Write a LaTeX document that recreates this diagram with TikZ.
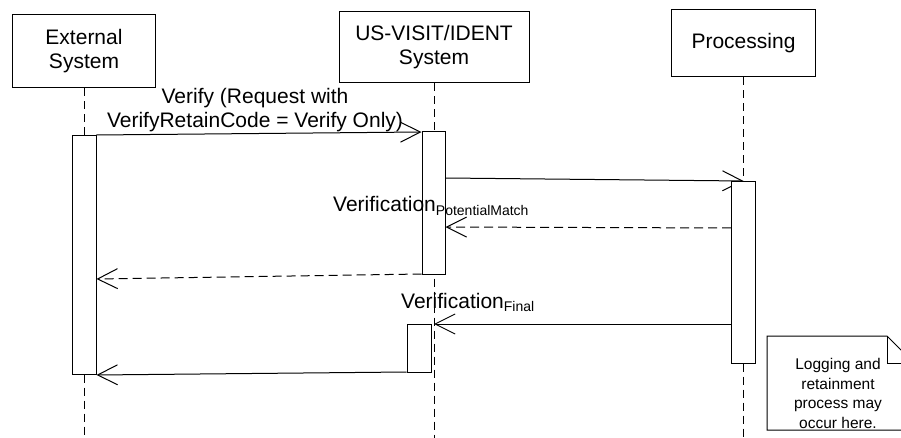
\documentclass[tikz,border=0pt]{standalone}
\usepackage{fontspec}
\setmainfont{Liberation Sans}
\usetikzlibrary{arrows.meta,backgrounds}
\tikzstyle{actor} = [rectangle, draw=black, line width=1pt, fill=white, align=center,
font=\fontsize{21}{24}\selectfont]
\tikzstyle{bar} = [rectangle, draw=black, line width=1pt, fill=white, minimum width=24pt,
inner sep=0pt, anchor=north]
\tikzstyle{life} = [line width=1pt, dash pattern=on 8pt off 5pt]
\tikzstyle{msg} = [line width=1pt, -{Straight Barb[length=20pt,width=20pt]}]
\tikzstyle{reply} = [msg, dash pattern=on 9pt off 5pt]
\tikzstyle{lbl} = [font=\fontsize{21}{24}\selectfont, inner sep=0pt]

\begin{document}
\begin{tikzpicture}[x=1pt, y=-1pt]
\useasboundingbox (0,0) rectangle (901,438);
\clip (0,0) rectangle (901,438);

\node (1)[actor, minimum width=143pt, minimum height=73pt] at (84,51.5) {External\\System};
\node (2)[actor, minimum width=190pt, minimum height=71pt] at (434,47.5) {US-VISIT/IDENT\\System};
\node (3)[actor, minimum width=144pt, minimum height=67pt] at (743.5,43.5) {Processing};

% activation bars
\node (1a)[bar, minimum height=239pt] at (84,135) {};
\node (2a)[bar, minimum width=23pt, minimum height=143pt] at (433.5,131) {};
\node (2b)[bar, minimum height=48pt] at (419,324) {};
\node (3a)[bar, minimum height=182pt] at (743.5,181) {};

\coordinate (1e) at (84,438);
\coordinate (2e) at (434,438);
\coordinate (3e) at (743.5,438);

\begin{pgfonlayer}{background}
\draw [life](1.south) -- (1e);
\draw [life](2.south) -- (2e);
\draw [life](3.south) -- (3e);
\draw [msg]([yshift=-47pt]2a.north east) -- (3a.north);
\end{pgfonlayer}

\draw [msg](1a.north east) -- ([yshift=-1pt]2a.north west);
\draw [reply]([yshift=-47pt]3a.north west) -- ([yshift=-96pt]2a.north east);
\draw [reply]([yshift=1pt]2a.south west) -- ([yshift=-144pt]1a.north east);
\draw [msg]([yshift=-143pt]3a.north west) -- (2b.north -| 2.south);
\draw [msg]([yshift=1pt]2b.south west) -- (1a.south east);

\node (m1)[lbl, align=center] at (255,110) {Verify (Request with\\VerifyRetainCode = Verify Only)};
\node (m3)[lbl, anchor=base west] at (333,212) {Verification\raisebox{-3pt}{\fontsize{14}{14}\selectfont PotentialMatch}};
\node (m5)[lbl, anchor=base west] at (401,308) {Verification\raisebox{-3pt}{\fontsize{14}{14}\selectfont Final}};

% note
\draw [line width=1pt, fill=white](767,336) -- (887,336) -- (914,363) -- (914,430) -- (767,430) -- cycle;
\draw [line width=1pt](887,336) -- (887,363) -- (914,363);
\node (n)[font=\fontsize{15.5}{19.7}\selectfont, align=center] at (838,393.5) {Logging and\\retainment\\process may\\occur here.};
\end{tikzpicture}
\end{document}
